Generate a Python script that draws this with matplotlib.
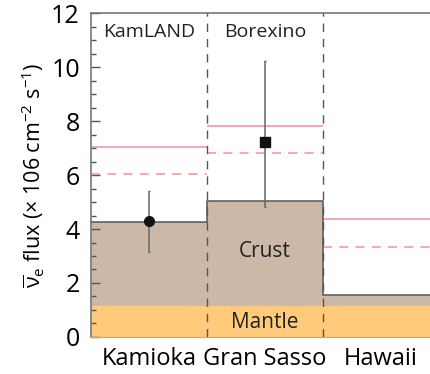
import matplotlib
matplotlib.use("Agg")
import matplotlib.pyplot as plt
from matplotlib.ticker import MultipleLocator

plt.rcParams['font.family'] = ['Open Sans', 'DejaVu Sans']
plt.rcParams['mathtext.fontset'] = 'custom'
plt.rcParams['mathtext.rm'] = 'Open Sans'
plt.rcParams['mathtext.it'] = 'Open Sans'

# geo-neutrino flux at three sites (10^6 cm^-2 s^-1)
sites = ['Kamioka', 'Gran Sasso', 'Hawaii']
experiments = ['KamLAND', 'Borexino']
mantle = [1.15, 1.15, 1.15]
crust_total = [4.26, 5.04, 1.55]       # mantle + crust
model_high = [7.05, 7.80, 4.37]        # solid pink
model_low = [6.04, 6.83, 3.35]         # dashed pink
measured = [4.30, 7.23]
err_low = [3.16, 4.83]
err_high = [5.42, 10.22]

crust_col = '#CBB8A6'
mantle_col = '#FFCB7A'
pink = '#F4A0AA'
grey = '#555555'

fig = plt.figure(figsize=(4.31, 3.74), dpi=100)
ax = fig.add_axes([0.211, 0.099, 0.789, 0.866])

edges = [0, 1, 2, 3]
x = [0.5, 1.5, 2.5]
crust = [c - m for c, m in zip(crust_total, mantle)]
ax.bar(x, mantle, width=1, color=mantle_col, lw=0, zorder=1)
ax.bar(x, crust, width=1, bottom=mantle, color=crust_col, lw=0, zorder=1)
ax.stairs(crust_total, edges, baseline=None, color=grey, lw=1.1, zorder=3)

for i in range(3):
    ax.hlines(model_high[i], edges[i], edges[i + 1], color=pink, lw=1.3, zorder=2)
    ax.hlines(model_low[i], edges[i], edges[i + 1], color=pink, lw=1.3,
              linestyles=(0, (5, 4)), zorder=2)

ax.vlines([1, 2], 0, 12, color=grey, lw=1.0, linestyles=(0, (6, 5)), zorder=4)

yerr = [[m - l for m, l in zip(measured, err_low)],
        [h - m for m, h in zip(measured, err_high)]]
ax.errorbar(x[0], measured[0], yerr=[[yerr[0][0]], [yerr[1][0]]], fmt='o',
            color='#111111', ecolor='#666666', ms=7, elinewidth=1.1, capsize=1, zorder=5)
ax.errorbar(x[1], measured[1], yerr=[[yerr[0][1]], [yerr[1][1]]], fmt='s',
            color='#111111', ecolor='#666666', ms=7, elinewidth=1.1, capsize=1, zorder=5)

for xi, name in zip(x[:2], experiments):
    ax.text(xi, 11.3, name, ha='center', va='center', fontsize=14, color='#222222')
ax.text(1.5, 3.15, 'Crust', ha='center', va='center', fontsize=15, color='#222222')
ax.text(1.5, 0.55, 'Mantle', ha='center', va='center', fontsize=15, color='#222222')

ax.set_xlim(0, 2.93)
ax.set_ylim(0, 12)
ax.set_xticks(x)
ax.set_xticklabels(sites, fontsize=17)
ax.tick_params(axis='x', length=0, pad=7)
ax.yaxis.set_major_locator(MultipleLocator(2))
ax.yaxis.set_minor_locator(MultipleLocator(0.5))
ax.tick_params(axis='y', which='major', direction='in', length=6.5, width=1,
               color='#555555', labelsize=18, pad=8)
ax.tick_params(axis='y', which='minor', direction='in', length=3.5, width=1,
               color='#555555')
ax.set_ylabel(r'$\overline{\nu}_{\rm e}$ flux (× 106 cm$^{-2}$ s$^{-1}$)',
              fontsize=15.5, labelpad=3)

ax.spines['right'].set_visible(False)
for s in ['left', 'top']:
    ax.spines[s].set_color('#777777')
    ax.spines[s].set_linewidth(1.2)
ax.spines['bottom'].set_color('#aaaaaa')

fig.savefig('out.png', dpi=100)
